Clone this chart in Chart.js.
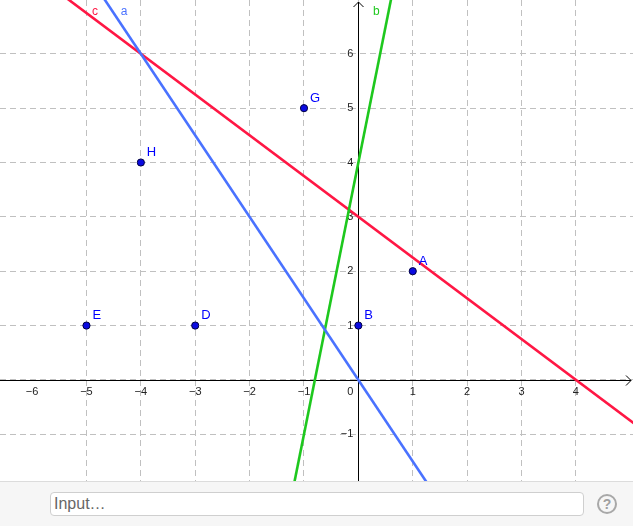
<!DOCTYPE html>
<html>
<head>
<meta charset="utf-8">
<script src="https://cdn.jsdelivr.net/npm/chart.js@4/dist/chart.umd.min.js"></script>
<style>
  html, body { margin: 0; padding: 0; background: #fff; font-family: "Liberation Sans", sans-serif; }
  #wrap { position: relative; width: 633px; height: 481px; }
  #bar { position: relative; width: 633px; height: 44px; background: #f6f6f6; border-top: 1px solid #dcdcdc; }
  #input { position: absolute; left: 50px; top: 10px; width: 529px; height: 22px; background: #fff;
    border: 1px solid #cfcfcf; border-radius: 4px; color: #666; font: 16px "Liberation Sans", sans-serif;
    line-height: 22px; padding-left: 3px; box-sizing: content-box; }
  #help { position: absolute; left: 597px; top: 12px; width: 16px; height: 16px; border: 2px solid #a8a8a8;
    border-radius: 50%; color: #a0a0a0; font: bold 14px "Liberation Sans", sans-serif; text-align: center; line-height: 16px; }
</style>
</head>
<body>
<div id="wrap"><canvas id="plot" width="633" height="481"></canvas></div>
<div id="bar"><div id="input">Input…</div><div id="help">?</div></div>
<script>
// view window
const xMin = -6.59, xMax = 5.05;
const yMin = -1.86, yMax = 6.99;

// tick labels
const xTicks = [-6, -5, -4, -3, -2, -1, 1, 2, 3, 4];
const yTicks = [-1, 1, 2, 3, 4, 5, 6];

// points
const pointNames = ["A", "B", "D", "E", "G", "H"];
const pointX = [1, 0, -3, -5, -1, -4];
const pointY = [2, 1, 1, 1, 5, 4];

// lines (two points on each, beyond the view; clipped)
const lineA_x = [-5, 1.5];
const lineA_y = [7.5, -2.25];
const lineB_x = [-1.3, 0.7];
const lineB_y = [-2.5, 7.5];
const lineC_x = [-7, 6];
const lineC_y = [8.25, -1.5];

// line name labels (data coords)
const lineLabels = ["c", "a", "b"];
const lineLabelX = [-4.9, -4.37, 0.27];
const lineLabelY = [6.77, 6.77, 6.77];
const lineLabelColors = ["#ff1744", "#4a72ff", "#1ec81e"];

const toXY = (xs, ys) => xs.map((x, i) => ({ x: x, y: ys[i] }));
const minus = v => (v < 0 ? "\u2212" + Math.abs(v) : String(v));

const overlay = {
  id: "overlay",
  beforeDatasetsDraw(chart) {
    const c = chart.ctx, xs = chart.scales.x, ys = chart.scales.y;
    const ox = xs.getPixelForValue(0), oy = ys.getPixelForValue(0);
    const area = chart.chartArea;
    c.save();
    c.strokeStyle = "#000";
    c.lineWidth = 1;
    c.beginPath();
    c.moveTo(area.left, Math.round(oy) + 0.5); c.lineTo(area.right - 2, Math.round(oy) + 0.5);
    c.moveTo(Math.round(ox) + 0.5, area.bottom); c.lineTo(Math.round(ox) + 0.5, area.top + 2);
    c.stroke();
    // arrows
    c.beginPath();
    c.moveTo(area.right - 7, Math.round(oy) - 4.5); c.lineTo(area.right - 2, Math.round(oy) + 0.5); c.lineTo(area.right - 7, Math.round(oy) + 5.5);
    c.moveTo(Math.round(ox) - 4.5, area.top + 7); c.lineTo(Math.round(ox) + 0.5, area.top + 2); c.lineTo(Math.round(ox) + 5.5, area.top + 7);
    c.stroke();
    // tick labels
    c.fillStyle = "#222";
    c.font = "11px 'Liberation Sans', sans-serif";
    c.textAlign = "center";
    c.textBaseline = "middle";
    xTicks.forEach(v => c.fillText(minus(v), xs.getPixelForValue(v), oy + 12));
    c.textAlign = "right";
    yTicks.forEach(v => c.fillText(minus(v), ox - 5, ys.getPixelForValue(v)));
    c.fillText("0", ox - 5, oy + 12);
    c.restore();
  },
  afterDatasetsDraw(chart) {
    const c = chart.ctx, xs = chart.scales.x, ys = chart.scales.y;
    c.save();
    c.font = "13px 'Liberation Sans', sans-serif";
    c.textAlign = "left";
    c.textBaseline = "middle";
    const meta = chart.getDatasetMeta(3);
    meta.data.forEach((el, i) => {
      c.fillStyle = "#0000ff";
      c.fillText(pointNames[i], el.x + 6, el.y - 10);
    });
    c.font = "12px 'Liberation Sans', sans-serif";
    lineLabels.forEach((t, i) => {
      c.fillStyle = lineLabelColors[i];
      c.fillText(t, xs.getPixelForValue(lineLabelX[i]), ys.getPixelForValue(lineLabelY[i]));
    });
    c.restore();
  }
};

const lineStyle = (data, color) => ({
  type: "line",
  data: data,
  borderColor: color,
  borderWidth: 2.6,
  pointRadius: 0,
  fill: false,
  tension: 0
});

const onlyIntegers = axis => { axis.ticks = axis.ticks.filter(t => Number.isInteger(t.value)); };

new Chart(document.getElementById("plot").getContext("2d"), {
  type: "scatter",
  data: {
    datasets: [
      lineStyle(toXY(lineA_x, lineA_y), "#4a72ff"),
      lineStyle(toXY(lineB_x, lineB_y), "#1ec81e"),
      lineStyle(toXY(lineC_x, lineC_y), "#ff1744"),
      {
        data: toXY(pointX, pointY),
        pointRadius: 3.6,
        backgroundColor: "#0a0ae0",
        borderColor: "#000040",
        borderWidth: 1
      }
    ]
  },
  options: {
    responsive: false,
    animation: false,
    layout: { padding: 0, autoPadding: false },
    plugins: { legend: { display: false }, tooltip: { enabled: false } },
    scales: {
      x: {
        type: "linear", min: xMin, max: xMax,
        ticks: { display: false, stepSize: 1 },
        afterBuildTicks: onlyIntegers,
        grid: { color: "#c0c0c0", lineWidth: 1, drawTicks: false },
        border: { display: false, dash: [6, 4] }
      },
      y: {
        type: "linear", min: yMin, max: yMax,
        ticks: { display: false, stepSize: 1 },
        afterBuildTicks: onlyIntegers,
        grid: { color: "#c0c0c0", lineWidth: 1, drawTicks: false },
        border: { display: false, dash: [6, 4] }
      }
    }
  },
  plugins: [overlay]
});
</script>
</body>
</html>
